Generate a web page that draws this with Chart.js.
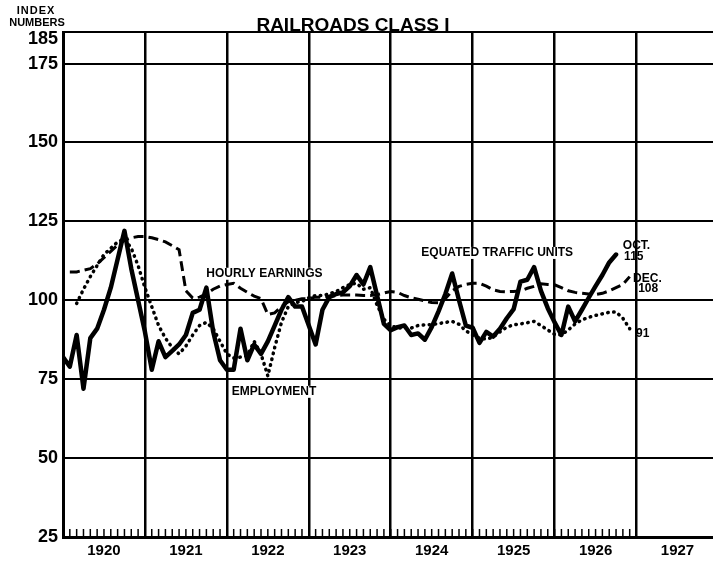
<!DOCTYPE html>
<html>
<head>
<meta charset="utf-8">
<title>Railroads Class I</title>
<script src="https://cdn.jsdelivr.net/npm/chart.js@4.4.1/dist/chart.umd.min.js"></script>
<style>
  body { margin: 0; background: #fff; }
  canvas { display: block; }
</style>
</head>
<body>
<canvas id="railroadsChart" width="713" height="561"></canvas>
<script>
// one value per month, index 0 = January 1920
const years = ["1920", "1921", "1922", "1923", "1924", "1925", "1926", "1927"];
const yTickValues = [25, 50, 75, 100, 125, 150, 175, 185];
const monthCount = 84; // small month ticks, 1920 - 1926

const trafficUnits = [
  82, 79, 89, 72, 88, 91, 97, 104, 113, 122, 110, 100,
  90, 78, 87, 82, 84, 86, 89, 96, 97, 104, 90, 81,
  78, 78, 91, 81, 86, 83, 87, 92, 97, 101, 98, 98,
  92, 86, 97, 101, 102, 102.5, 104.5, 108, 105, 110.5, 101.5, 92.5,
  90.5, 91.5, 92, 89, 89.5, 87.5, 91.5, 96.5, 102, 108.5, 100, 92,
  91.3, 86.5, 90, 88.5, 91, 94.3, 97.2, 105.9, 106.5, 110.5, 103, 97.5,
  93, 89, 98, 93.3, 97, 100.8, 104.5, 108, 112, 114.5
];

const hourlyEarnings = [
  null, 109, 109, 109.5, 110, 111.5, 113.5, 115.5, 117.5, 119, 119.8, 120.2,
  120.2, 119.8, 119.2, 118.5, 117.3, 116, 103, 100.7, 101, 102, 103.5, 104.5,
  105, 105.4, 103.8, 102.5, 101.3, 100.5, 95.5, 96, 98, 99.5, 100, 100.5,
  100.5, 101, 101, 101.3, 101.5, 101.7, 101.7, 101.7, 101.5, 101.5, 101.8, 102.3,
  102.8, 102.5, 101.5, 100.8, 100.3, 99.8, 99.3, 99.2, 100.5, 103, 104.4, 105,
  105.4, 105.4, 104.5, 103.3, 102.8, 102.7, 102.8, 103, 103.8, 104.4, 105.2, 105,
  104.9, 104, 103, 102.5, 102.2, 102, 101.8, 102.2, 103, 104, 105, 107.5
];

const employment = [
  null, null, 99, 103.5, 107.5, 111, 114.5, 116.5, 118.5, 119.5, 116.5, 111,
  104, 98, 92, 88, 85, 83, 85.5, 89, 92, 93, 91, 87,
  83, 81.7, 82, 82.5, 87, 83, 76, 85, 93, 98, 99.3, 99.6,
  100.8, 101.5, 101.5, 102, 102.8, 104, 105, 105.4, 103.5, 104, 98.5, 94,
  92, 91.2, 91.2, 91.2, 92, 92.2, 92.3, 92.6, 93, 93.3, 92.4, 90.3,
  89, 88, 87.7, 88.3, 90, 91.5, 92.2, 92.5, 92.9, 93.3, 92, 90.6,
  89.2, 89, 90.6, 92.5, 93.8, 94.6, 95.2, 95.7, 96.2, 96.3, 94.3, 91
];

// labels written on the plot, placed in month / index units
const notes = [
  { text: "HOURLY EARNINGS", month: 29.5, value: 108.4, knockout: true },
  { text: "EQUATED TRAFFIC UNITS", month: 63.6, value: 115, knockout: true },
  { text: "EMPLOYMENT", month: 30.9, value: 71, knockout: true },
  { text: "OCT.", month: 84.0, value: 117.3 },
  { text: "115", month: 83.6, value: 113.9 },
  { text: "DEC.", month: 85.6, value: 106.8 },
  { text: "108", month: 85.7, value: 103.6 },
  { text: "91", month: 84.9, value: 89.4 }
];

const FONT = '"Liberation Sans", Arial, sans-serif';

function toPoints(values) {
  const pts = [];
  values.forEach((v, i) => {
    if (v !== null) pts.push({ x: i, y: v });
  });
  return pts;
}

const monthTicksPlugin = {
  id: "monthTicks",
  beforeDatasetsDraw(chart) {
    const ctx = chart.ctx;
    const xs = chart.scales.x;
    const bottom = chart.chartArea.bottom;
    ctx.save();
    ctx.strokeStyle = "#000";
    ctx.lineWidth = 1.5;
    for (let m = 1; m < monthCount; m++) {
      const x = xs.getPixelForValue(m);
      ctx.beginPath();
      ctx.moveTo(x, bottom);
      ctx.lineTo(x, bottom - 8);
      ctx.stroke();
    }
    ctx.restore();
  }
};

const textPlugin = {
  id: "chartText",
  afterDraw(chart) {
    const ctx = chart.ctx;
    const xs = chart.scales.x;
    const ys = chart.scales.y;
    ctx.save();
    ctx.fillStyle = "#000";
    ctx.textAlign = "center";
    ctx.textBaseline = "middle";
    ctx.font = "bold 12px " + FONT;
    notes.forEach((n) => {
      const x = xs.getPixelForValue(n.month);
      const y = ys.getPixelForValue(n.value);
      if (n.knockout) {
        const w = ctx.measureText(n.text).width;
        ctx.fillStyle = "#fff";
        ctx.fillRect(x - w / 2 - 2, y - 6, w + 4, 12);
        ctx.fillStyle = "#000";
      }
      ctx.fillText(n.text, x, y);
    });

    // top tick label sits just under the top line
    const topValue = yTickValues[yTickValues.length - 1];
    ctx.textAlign = "right";
    ctx.font = "bold 18px " + FONT;
    ctx.fillText(String(topValue), ys.left + ys.width - 5, ys.getPixelForValue(topValue) + 7);

    // title and axis caption
    ctx.textAlign = "center";
    ctx.textBaseline = "alphabetic";
    ctx.font = "bold 19px " + FONT;
    ctx.fillText("RAILROADS CLASS I", 353, 31);
    ctx.font = "bold 11px " + FONT;
    ctx.letterSpacing = "1px";
    ctx.fillText("INDEX", 36, 14);
    ctx.letterSpacing = "0px";
    ctx.fillText("NUMBERS", 37, 26);
    ctx.restore();
  }
};

function createChart() {
  const ctx = document.getElementById("railroadsChart").getContext("2d");

  new Chart(ctx, {
    type: "line",
    data: {
      datasets: [
        {
          label: "Equated Traffic Units",
          data: toPoints(trafficUnits),
          borderColor: "#000",
          borderWidth: 4.5,
          borderJoinStyle: "round",
          borderCapStyle: "round",
          pointRadius: 0,
          tension: 0,
        },
        {
          label: "Hourly Earnings",
          data: toPoints(hourlyEarnings),
          borderColor: "#000",
          borderWidth: 3,
          borderDash: [10, 5],
          pointRadius: 0,
          tension: 0,
        },
        {
          label: "Employment",
          data: toPoints(employment),
          borderColor: "#000",
          borderWidth: 3.5,
          borderDash: [0.5, 5.5],
          borderCapStyle: "round",
          pointRadius: 0,
          tension: 0,
        },
      ],
    },
    options: {
      responsive: false,
      animation: false,
      layout: { padding: { top: 32, right: 0, left: 0, bottom: 0 } },
      plugins: {
        legend: { display: false },
        tooltip: { enabled: false },
      },
      scales: {
        x: {
          type: "linear",
          min: 0,
          max: 95.2,
          afterBuildTicks: (scale) => {
            const t = [];
            for (let v = 0; v <= 90; v += 6) t.push({ value: v });
            scale.ticks = t;
          },
          afterFit: (scale) => { scale.height = 24; },
          ticks: {
            autoSkip: false,
            maxRotation: 0,
            padding: 5,
            color: "#000",
            font: { family: FONT, size: 15, weight: "bold" },
            callback: (value) => (value % 12 === 6 ? years[(value - 6) / 12] : ""),
          },
          grid: {
            drawTicks: false,
            lineWidth: 2.5,
            color: (c) => (c.tick && c.tick.value % 12 === 0 ? "#000" : "rgba(0,0,0,0)"),
          },
          border: { display: true, color: "#000", width: 3 },
        },
        y: {
          min: 25,
          max: 185,
          afterBuildTicks: (scale) => {
            scale.ticks = yTickValues.map((v) => ({ value: v }));
          },
          afterFit: (scale) => { scale.width = 63; },
          ticks: {
            padding: 5,
            color: "#000",
            font: { family: FONT, size: 18, weight: "bold" },
            // 185 is written by the text plugin, a little lower
            callback: (value) => (value === yTickValues[yTickValues.length - 1] ? "" : value),
          },
          grid: {
            drawTicks: false,
            lineWidth: 2,
            color: "#000",
          },
          border: { display: true, color: "#000", width: 3 },
        },
      },
    },
    plugins: [monthTicksPlugin, textPlugin],
  });
}

createChart();
</script>
</body>
</html>
